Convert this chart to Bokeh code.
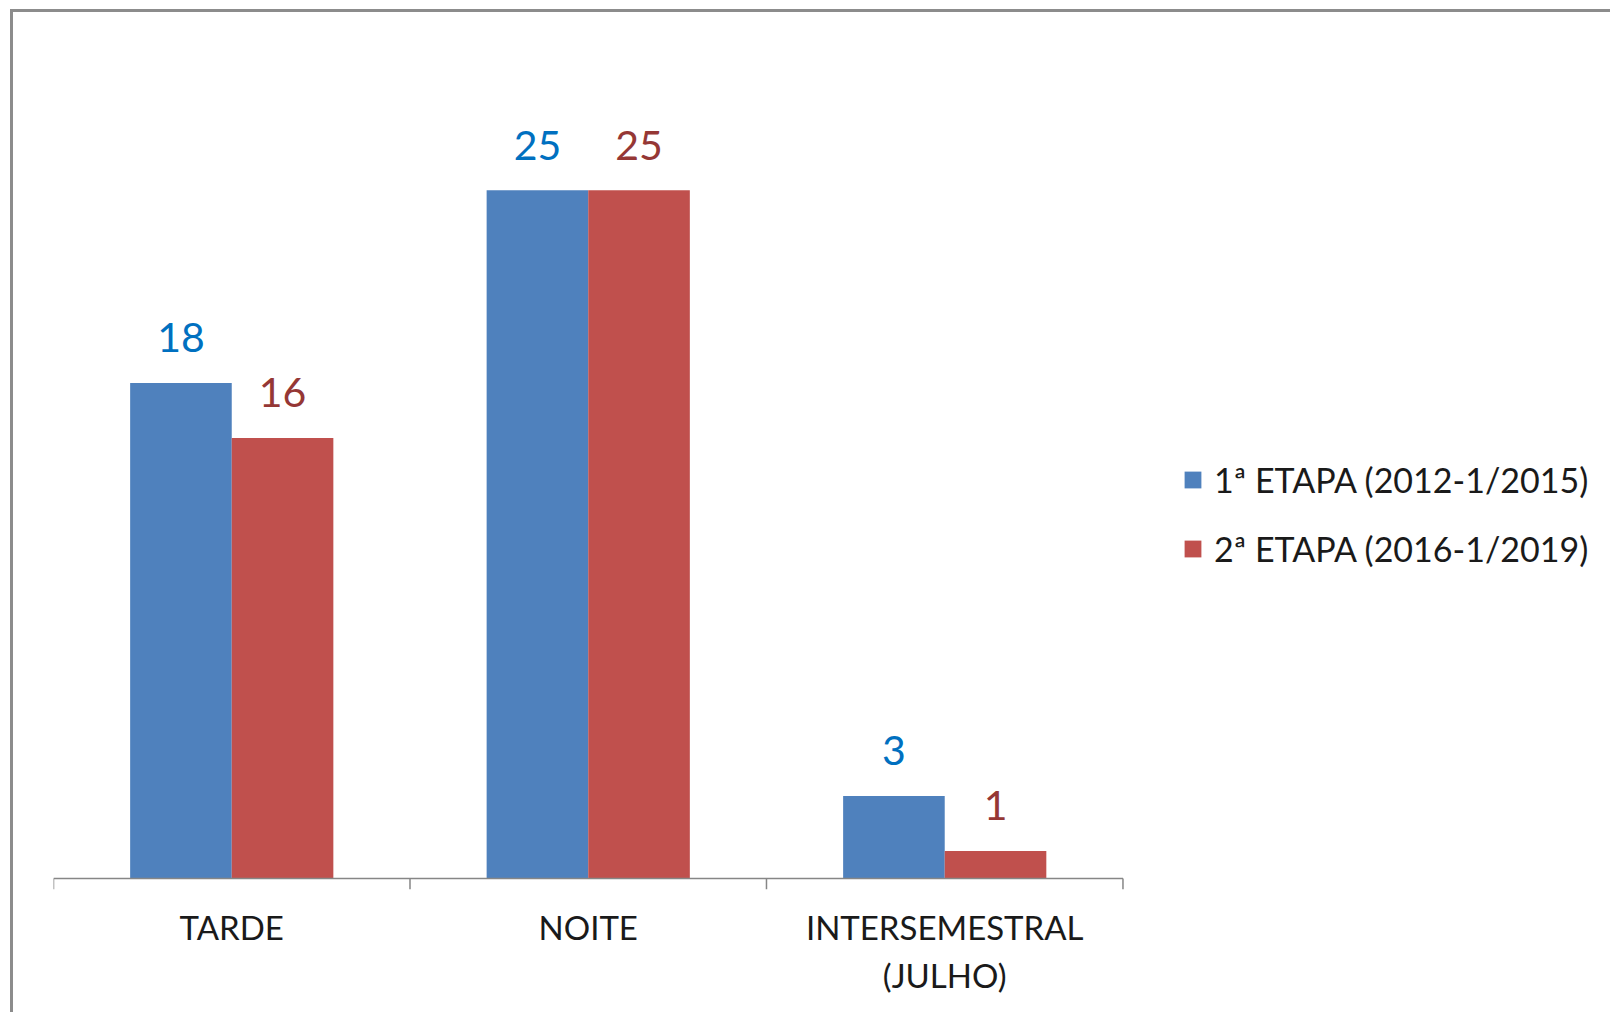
from bokeh.plotting import figure
from bokeh.models import (ColumnDataSource, Range1d, Legend, LegendItem,
                          LinearAxis, FixedTicker)
from bokeh.core.properties import value
from bokeh.embed import file_html
from bokeh.resources import INLINE

categories = ["TARDE", "NOITE", "INTERSEMESTRAL\n(JULHO)"]
etapa1 = [18, 25, 3]
etapa2 = [16, 25, 1]
series_names = ["1ª ETAPA (2012-1/2015)", "2ª ETAPA (2016-1/2019)"]

FONT = "Lato"
BLUE = "#4F81BD"
RED = "#C0504D"
BLUE_TXT = "#0070C0"
RED_TXT = "#953735"
AXIS_GRAY = "#868686"

n = len(categories)
bw = 0.285
centers = [i + 0.5 for i in range(n)]
bounds = list(range(n + 1))
TICK = 0.4  # tick length in y units (about 11px)

src = ColumnDataSource(dict(
    x1=[c - bw / 2 for c in centers],
    x2=[c + bw / 2 for c in centers],
    e1=etapa1,
    e2=etapa2,
    e1_lbl=[str(v) for v in etapa1],
    e2_lbl=[str(v) for v in etapa2],
))

W, H = 1600, 1003
p = figure(
    width=W, height=H,
    x_range=Range1d(0, 4.376),
    y_range=Range1d(-TICK, 30),
    output_backend="svg", toolbar_location=None,
    x_axis_location=None, y_axis_location=None,
    min_border_left=40, min_border_top=40, min_border_right=0, min_border_bottom=126,
)
p.styles = {"margin-left": "10px", "margin-top": "9px",
            "border-left": "3px solid #8c8c8c", "border-top": "3px solid #8c8c8c"}
p.outline_line_color = None
p.grid.visible = False

r1 = p.vbar(x="x1", top="e1", bottom=0, width=bw, source=src, fill_color=BLUE, line_color=None)
r2 = p.vbar(x="x2", top="e2", bottom=0, width=bw, source=src, fill_color=RED, line_color=None)

# category axis line and boundary ticks
p.segment(x0=[bounds[0]], y0=[0], x1=[bounds[-1]], y1=[0], line_color=AXIS_GRAY, line_width=1.5)
p.segment(x0=bounds, y0=[0] * len(bounds), x1=bounds, y1=[-TICK] * len(bounds),
          line_color=AXIS_GRAY, line_width=1.5)

p.text(x="x1", y="e1", text="e1_lbl", source=src,
       text_align="center", text_baseline="alphabetic", y_offset=-45,
       text_font=value(FONT), text_font_size="41px", text_color=BLUE_TXT)
p.text(x="x2", y="e2", text="e2_lbl", source=src,
       text_align="center", text_baseline="alphabetic", y_offset=-45,
       text_font=value(FONT), text_font_size="41px", text_color=RED_TXT)

# category labels at category centres
cax = LinearAxis(ticker=FixedTicker(ticks=centers))
cax.major_label_overrides = {c: lab for c, lab in zip(centers, categories)}
cax.axis_line_color = None
cax.major_tick_line_color = None
cax.major_tick_out = 0
cax.major_tick_in = 0
cax.minor_tick_line_color = None
cax.major_label_text_font = FONT
cax.major_label_text_font_size = "33px"
cax.major_label_text_color = "#1a1a1a"
cax.major_label_standoff = 17
p.add_layout(cax, "below")

legend = Legend(items=[LegendItem(label=series_names[0], renderers=[r1]),
                       LegendItem(label=series_names[1], renderers=[r2])],
                location=(1129, 320), orientation="vertical")
legend.label_text_font = FONT
legend.label_text_font_size = "34px"
legend.label_text_color = "#1a1a1a"
legend.glyph_width = 21
legend.glyph_height = 21
legend.label_height = 40
legend.label_standoff = 11
legend.spacing = 28
legend.padding = 0
legend.margin = 0
legend.border_line_color = None
legend.background_fill_alpha = 0
p.add_layout(legend)

open("out.html", "w").write(file_html(p, INLINE))
